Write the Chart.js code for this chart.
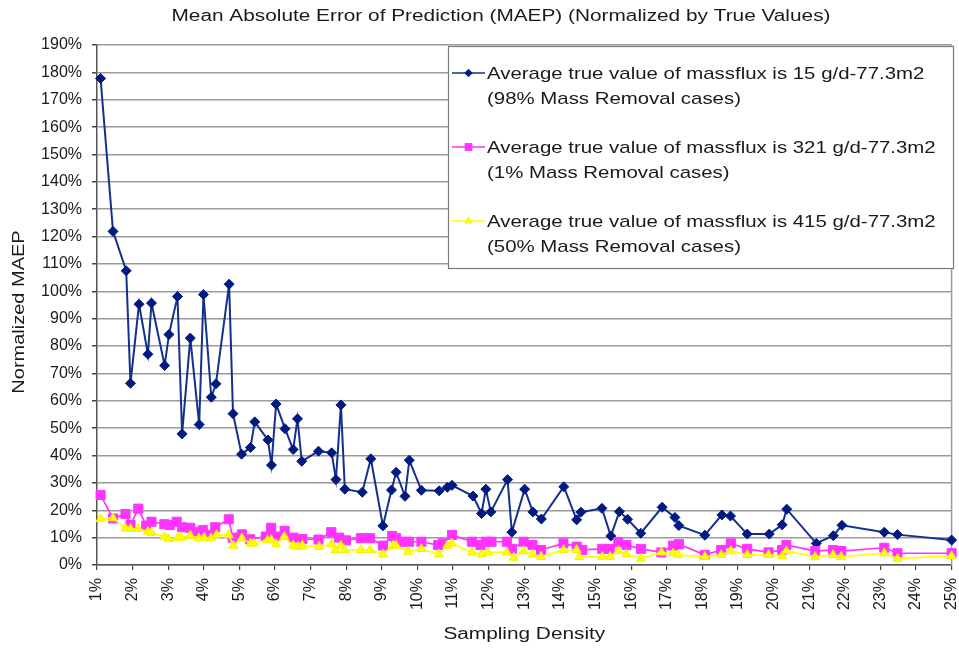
<!DOCTYPE html>
<html>
<head>
<meta charset="utf-8">
<title>MAEP vs Sampling Density</title>
<script src="https://cdn.jsdelivr.net/npm/chart.js@4/dist/chart.umd.min.js"></script>
<style>
  html, body { margin: 0; padding: 0; background: #fff; }
  #maepChart { display: block; }
</style>
</head>
<body>
<canvas id="maepChart" width="959" height="649"></canvas>
<script>
/* ---- Data: sampling density (%) and normalized MAEP (%) ---- */
const X_TICKS = [1, 2, 3, 4, 5, 6, 7, 8, 9, 10, 11, 12, 13, 14, 15, 16, 17, 18, 19, 20, 21, 22, 23, 24, 25];
const Y_TICKS = [0, 10, 20, 30, 40, 50, 60, 70, 80, 90, 100, 110, 120, 130, 140, 150, 160, 170, 180, 190];

const blueX = [1.1, 1.45, 1.82, 1.94, 2.18, 2.43, 2.53, 2.9, 3.02, 3.26, 3.39, 3.62, 3.87, 3.99, 4.21, 4.34, 4.71, 4.82,
  5.06, 5.31, 5.43, 5.8, 5.9, 6.03, 6.28, 6.51, 6.63, 6.75, 7.22, 7.59, 7.71, 7.85, 7.96, 8.45, 8.69, 9.03, 9.27, 9.4,
  9.65, 9.77, 10.11, 10.61, 10.84, 10.97, 11.56, 11.8, 11.92, 12.06, 12.53, 12.65, 13.01, 13.24, 13.48, 14.11, 14.47,
  14.59, 15.18, 15.43, 15.67, 15.9, 16.27, 16.87, 17.23, 17.34, 18.07, 18.55, 18.79, 19.26, 19.88, 20.24, 20.37, 21.2,
  21.68, 21.92, 23.11, 23.48, 25];
const blueY = [177.8, 121.9, 107.5, 66.4, 95.3, 77, 95.7, 72.9, 84.2, 98.1, 47.9, 82.9, 51.3, 98.8, 61.3, 66.2, 102.6, 55.3,
  40.5, 42.9, 52.3, 45.7, 36.5, 58.8, 49.8, 42.2, 53.4, 37.9, 41.6, 41, 31.2, 58.5, 27.7, 26.6, 38.8, 14.3, 27.4, 33.9,
  25.1, 38.3, 27.3, 27.1, 28.4, 29.1, 25.2, 18.8, 27.7, 19.4, 31.2, 12, 27.7, 19.4, 16.8, 28.6, 16.5,
  19.3, 20.7, 10.6, 19.5, 16.7, 11.6, 21.1, 17.4, 14.4, 10.9, 18.3, 17.9, 11.3, 11.3, 14.7, 20.4, 7.9,
  10.7, 14.5, 12, 11.1, 9.1];

const magentaX = [1.1, 1.45, 1.8, 1.94, 2.16, 2.38, 2.53, 2.89, 3.04, 3.24, 3.39, 3.62, 3.8, 3.97, 4.16, 4.32, 4.7, 4.81,
  5.07, 5.3, 5.74, 5.89, 6.02, 6.27, 6.51, 6.77, 7.22, 7.58, 7.8, 7.99, 8.41, 8.67, 9.03, 9.29, 9.4, 9.53, 9.76, 10.11,
  10.58, 10.71, 10.97, 11.53, 11.77, 11.92, 12.08, 12.51, 12.65, 12.98, 13.23, 13.47, 14.1, 14.47, 14.63, 15.19, 15.41,
  15.64, 15.87, 16.28, 16.85, 17.18, 17.34, 18.07, 18.53, 18.8, 19.26, 19.86, 20.24, 20.36, 21.17, 21.67, 21.9, 23.11,
  23.48, 25];
const magentaY = [25.6, 17, 18.6, 14.6, 20.6, 14.4, 15.8, 14.9, 14.6, 15.8, 13.8, 13.6, 12, 12.7, 11, 13.8, 16.7, 10,
  11.2, 9.4, 10.4, 13.6, 10.4, 12.5, 10, 9.5, 9.3, 12, 10, 9, 9.8, 9.8, 7.1, 10.6, 9.8, 8.5, 8.5, 8.5,
  7.3, 7.9, 11, 8.5, 7.3, 8.5, 8.5, 8.5, 5.9, 8.5, 7.3, 5.5, 7.9, 6.7, 5.5, 5.9, 5.9,
  8.3, 7.3, 5.9, 4.6, 7.1, 7.6, 3.7, 5.5, 7.9, 5.9, 4.6, 5.5, 7.3, 5.1, 5.5, 5.1, 6.3,
  4.3, 4.3];

const yellowX = [1.1, 1.45, 1.8, 1.94, 2.16, 2.43, 2.53, 2.89, 3.01, 3.27, 3.36, 3.62, 3.86, 4.01, 4.2, 4.36, 4.7, 4.83,
  5.07, 5.31, 5.4, 5.79, 5.9, 6.03, 6.26, 6.51, 6.66, 6.77, 7.24, 7.59, 7.69, 7.85, 7.96, 8.41, 8.67, 9.03, 9.32, 9.4,
  9.74, 10.11, 10.6, 10.84, 10.96, 11.53, 11.8, 11.98, 12.51, 12.7, 12.98, 13.23, 13.47, 14.1, 14.47, 14.54, 15.19,
  15.41, 15.64, 15.87, 16.28, 16.85, 17.18, 17.32, 18.07, 18.53, 18.8, 19.26, 19.86, 20.24, 20.36, 21.17, 21.67, 21.9,
  23.11, 23.48, 25];
const yellowY = [16.8, 17.1, 13.4, 13.2, 13.2, 12.2, 11.8, 10.3, 9.5, 10, 10, 10.7, 9.8, 10, 9.8, 11, 11, 7.1,
  9.8, 7.9, 7.9, 9.1, 9.1, 7.6, 10.3, 7.1, 6.7, 7.1, 6.7, 7.6, 5.5, 7.1, 5.5, 5.5, 5.5, 3.9, 7.1, 7.1,
  4.9, 5.9, 3.9, 7.1, 7.9, 4.6, 3.9, 4.6, 4.6, 2.7, 5.1, 3.9, 3, 5.5, 5.5, 3, 3,
  3, 5.1, 3.9, 2.4, 4.6, 4.3, 3.7, 3, 3.7, 5.1, 3.7, 3.7, 3.3, 5.1, 3, 3.7, 3,
  4.3, 2.3, 3.3];

const SERIES_LABELS = [
  ["Average true value of massflux is 15 g/d-77.3m2", "(98% Mass Removal cases)"],
  ["Average true value of massflux is 321 g/d-77.3m2", "(1% Mass Removal cases)"],
  ["Average true value of massflux is 415 g/d-77.3m2", "(50% Mass Removal cases)"],
];

const CHART_TITLE = "Mean Absolute Error of Prediction (MAEP) (Normalized by True Values)";
const X_TITLE = "Sampling Density";
const Y_TITLE = "Normalized MAEP";

/* ---- Styling ---- */
const FONT = "'Liberation Sans', Arial, sans-serif";
const TEXT_COLOR = "#1a1a1a";
const GRID_COLOR = "#9a9a9a";
const AXIS_COLOR = "#555";

function toPoints(xs, ys) {
  return xs.map((x, i) => ({ x, y: ys[i] }));
}

// Excel-style text is wider than the plain font; draw it with a horizontal stretch
function stretchText(ctx, text, x, y, sx, align, rotate) {
  ctx.save();
  ctx.translate(x, y);
  if (rotate) ctx.rotate(rotate);
  ctx.scale(sx, 1);
  ctx.textAlign = align;
  ctx.fillText(text, 0, 0);
  ctx.restore();
}

/* ---- Titles, frame and boxed legend ---- */
const decorPlugin = {
  id: "decor",
  beforeDatasetsDraw(chart) {
    const { ctx, chartArea } = chart;
    ctx.save();
    ctx.strokeStyle = GRID_COLOR;
    ctx.lineWidth = 1.5;
    ctx.beginPath();
    ctx.moveTo(chartArea.right, chartArea.top);
    ctx.lineTo(chartArea.right, chartArea.bottom);
    ctx.stroke();
    ctx.restore();
  },
  afterDraw(chart) {
    const { ctx, chartArea } = chart;
    ctx.save();
    ctx.fillStyle = TEXT_COLOR;
    ctx.textBaseline = "alphabetic";

    ctx.font = `16px ${FONT}`;
    stretchText(ctx, CHART_TITLE, 501, 21, 1.3, "center");
    stretchText(ctx, X_TITLE, (chartArea.left + chartArea.right) / 2, 639, 1.3, "center");
    stretchText(ctx, Y_TITLE, 24, 312, 1.25, "center", -Math.PI / 2);

    // legend box
    const box = { left: 448, top: 46, right: 953, bottom: 268 };
    ctx.fillStyle = "#fff";
    ctx.fillRect(box.left, box.top, box.right - box.left, box.bottom - box.top);
    ctx.strokeStyle = "#7a7a7a";
    ctx.lineWidth = 1.2;
    ctx.strokeRect(box.left + 0.5, box.top + 0.5, box.right - box.left, box.bottom - box.top);

    const rowY = [73, 147, 221];
    chart.data.datasets.forEach((ds, i) => {
      const y = rowY[i];
      ctx.strokeStyle = ds.borderColor;
      ctx.lineWidth = 1.5;
      ctx.beginPath();
      ctx.moveTo(452, y);
      ctx.lineTo(485, y);
      ctx.stroke();
      ctx.fillStyle = ds.pointBackgroundColor;
      ctx.strokeStyle = ds.pointBorderColor;
      ctx.lineWidth = 1;
      Chart.helpers.drawPoint(ctx, { pointStyle: ds.pointStyle, radius: ds.pointRadius * 0.75, borderWidth: 1 }, 468.5, y);

      ctx.fillStyle = TEXT_COLOR;
      ctx.font = `17px ${FONT}`;
      SERIES_LABELS[i].forEach((line, j) => {
        stretchText(ctx, line, 487, y + 6 + j * 25, 1.2, "left");
      });
    });
    ctx.restore();
  },
};

/* ---- Chart ---- */
const canvas = document.getElementById("maepChart");

new Chart(canvas, {
  type: "scatter",
  data: {
    datasets: [
      {
        label: SERIES_LABELS[0].join(" "),
        data: toPoints(blueX, blueY),
        showLine: true,
        borderColor: "#14308f",
        borderWidth: 2,
        pointStyle: "rectRot",
        pointRadius: 5,
        pointBackgroundColor: "#001a80",
        pointBorderColor: "#001a80",
        pointBorderWidth: 1,
        clip: false,
        order: 3,
      },
      {
        label: SERIES_LABELS[1].join(" "),
        data: toPoints(magentaX, magentaY),
        showLine: true,
        borderColor: "#ff33ff",
        borderWidth: 1.7,
        pointStyle: "rect",
        pointRadius: 6.4,
        pointBackgroundColor: "#ff33ff",
        pointBorderColor: "#ff33ff",
        pointBorderWidth: 1,
        clip: false,
        order: 2,
      },
      {
        label: SERIES_LABELS[2].join(" "),
        data: toPoints(yellowX, yellowY),
        showLine: true,
        borderColor: "#ffff00",
        borderWidth: 1.7,
        pointStyle: "triangle",
        pointRadius: 5.2,
        pointBackgroundColor: "#ffff00",
        pointBorderColor: "#f2f200",
        pointBorderWidth: 1,
        clip: false,
        order: 1,
      },
    ],
  },
  options: {
    responsive: false,
    animation: false,
    events: [],
    layout: { padding: { top: 45, right: 4, left: 0, bottom: 0 } },
    plugins: {
      legend: { display: false },
      title: { display: false },
      tooltip: { enabled: false },
    },
    scales: {
      x: {
        type: "linear",
        min: 1,
        max: 25,
        afterBuildTicks: (scale) => {
          scale.ticks = X_TICKS.map((v) => ({ value: v }));
        },
        afterFit: (scale) => {
          scale.height = 84;
          scale.paddingLeft = 0;
          scale.paddingRight = 0;
        },
        ticks: {
          autoSkip: false,
          minRotation: 90,
          maxRotation: 90,
          padding: 8,
          color: TEXT_COLOR,
          font: { family: FONT, size: 16 },
          callback: (v) => v + "%",
        },
        grid: { drawOnChartArea: false, tickLength: 5, tickColor: "#444", lineWidth: 1.2 },
        border: { color: AXIS_COLOR, width: 1.5 },
      },
      y: {
        min: 0,
        max: 190,
        afterBuildTicks: (scale) => {
          scale.ticks = Y_TICKS.map((v) => ({ value: v }));
        },
        afterFit: (scale) => {
          scale.width = 97;
          scale.paddingTop = 0;
          scale.paddingBottom = 0;
        },
        ticks: {
          padding: 10,
          color: TEXT_COLOR,
          font: { family: FONT, size: 16 },
          callback: (v) => v + "%",
        },
        grid: { color: GRID_COLOR, lineWidth: 1.5, tickLength: 5, tickColor: "#444" },
        border: { color: AXIS_COLOR, width: 1.5 },
      },
    },
  },
  plugins: [decorPlugin],
});
</script>
</body>
</html>
